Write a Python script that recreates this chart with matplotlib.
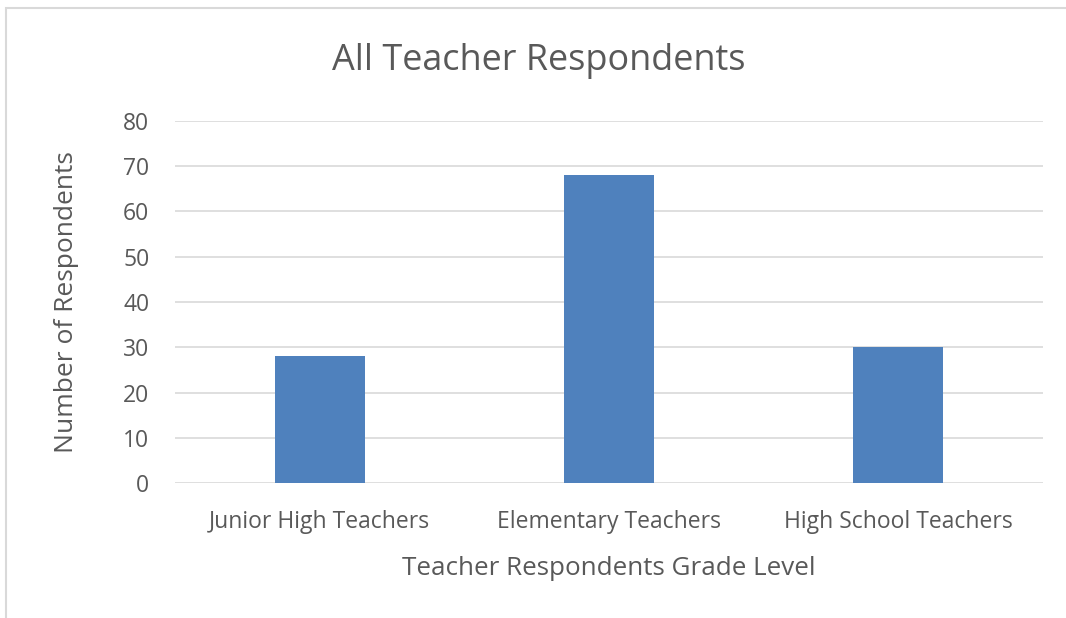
import matplotlib
matplotlib.use("Agg")
import matplotlib.pyplot as plt
from matplotlib.patches import Rectangle

categories = ["Junior High Teachers", "Elementary Teachers", "High School Teachers"]
values = [28, 68, 30]
yticks = [0, 10, 20, 30, 40, 50, 60, 70, 80]

TEXT = "#595959"
BAR = "#4f81bd"
GRID = "#d9d9d9"
plt.rcParams['font.family'] = ['Open Sans', 'DejaVu Sans']

W, H = 1066, 618
fig = plt.figure(figsize=(W / 100, H / 100), dpi=100)
ax = fig.add_axes([175 / W, 1 - 483.3 / H, (1043 - 175) / W, (483.3 - 120.7) / H])

x = list(range(len(categories)))
ax.bar(x, values, width=0.31, color=BAR, zorder=3)
ax.set_xlim(-0.5, len(categories) - 0.5)
ax.set_ylim(0, 80)
ax.set_yticks(yticks)
ax.set_xticks(x)
ax.set_xticklabels(categories)
ax.grid(axis='y', color=GRID, linewidth=1.2, zorder=0)
for s in ax.spines.values():
    s.set_visible(False)
ax.tick_params(axis='both', length=0, colors=TEXT, labelsize=16.5)
ax.tick_params(axis='y', pad=18.5)
ax.tick_params(axis='x', pad=19.5)
ax.set_xlabel("Teacher Respondents Grade Level", color=TEXT, fontsize=18.7, labelpad=15.5)
ax.set_ylabel("Number of Respondents", color=TEXT, fontsize=19, labelpad=32)

fig.text(539 / W, 1 - 61 / H, "All Teacher Respondents", ha='center', va='center',
         color=TEXT, fontsize=25.9)

# outer chart frame
fig.patches.append(Rectangle((6 / W, -0.1), 1.2, 1 - 8 / H + 0.1, transform=fig.transFigure,
                             fill=False, edgecolor="#d9d9d9", linewidth=1.5))

fig.savefig("out.png", dpi=100, facecolor="white")
